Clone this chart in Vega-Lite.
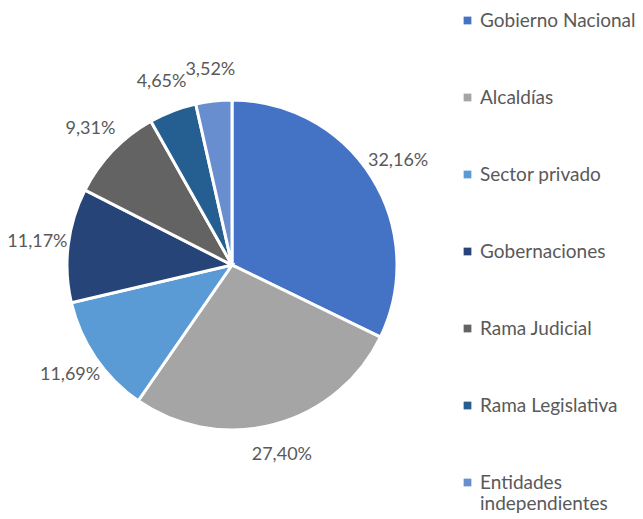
{
  "$schema": "https://vega.github.io/schema/vega-lite/v6.json",
  "autosize": "none",
  "width": 464,
  "height": 530,
  "padding": {"left": 0, "top": 0, "right": 179, "bottom": 0},
  "background": "white",
  "data": {
    "values": [
      {"orden": 1, "entidad": "Gobierno Nacional", "valor": 32.16, "etiqueta": "32,16%"},
      {"orden": 2, "entidad": "Alcaldías", "valor": 27.40, "etiqueta": "27,40%"},
      {"orden": 3, "entidad": "Sector privado", "valor": 11.69, "etiqueta": "11,69%"},
      {"orden": 4, "entidad": "Gobernaciones", "valor": 11.17, "etiqueta": "11,17%"},
      {"orden": 5, "entidad": "Rama Judicial", "valor": 9.31, "etiqueta": "9,31%"},
      {"orden": 6, "entidad": "Rama Legislativa", "valor": 4.65, "etiqueta": "4,65%"},
      {"orden": 7, "entidad": "Entidades independientes", "valor": 3.52, "etiqueta": "3,52%"}
    ]
  },
  "encoding": {
    "theta": {"field": "valor", "type": "quantitative", "stack": true},
    "order": {"field": "orden", "type": "quantitative"},
    "color": {
      "field": "entidad",
      "type": "nominal",
      "sort": null,
      "scale": {
        "domain": ["Gobierno Nacional", "Alcaldías", "Sector privado", "Gobernaciones", "Rama Judicial", "Rama Legislativa", "Entidades independientes"],
        "range": ["#4472C4", "#A5A5A5", "#5B9BD5", "#264478", "#636363", "#255E91", "#698ED0"]
      },
      "legend": {
        "title": null,
        "orient": "none",
        "legendX": 458,
        "legendY": 11,
        "symbolType": "square",
        "symbolSize": 60,
        "symbolStrokeWidth": 0,
        "labelFont": "Lato",
        "labelFontSize": 19,
        "labelColor": "#595959",
        "rowPadding": 57,
        "labelOffset": 3,
        "labelLimit": 200,
        "labelLineHeight": 25,
        "labelExpr": "datum.label == 'Entidades independientes' ? ['Entidades', 'independientes'] : datum.label"
      }
    }
  },
  "layer": [
    {
      "mark": {"type": "arc", "outerRadius": 165, "stroke": "white", "strokeWidth": 3, "x": 232, "y": 265}
    },
    {
      "mark": {"type": "text", "radius": 196, "font": "Lato", "fontSize": 18, "fill": "#595959", "x": 232, "y": 265},
      "encoding": {
        "text": {"field": "etiqueta", "type": "nominal"},
        "color": {"value": "#595959"}
      }
    }
  ]
}
